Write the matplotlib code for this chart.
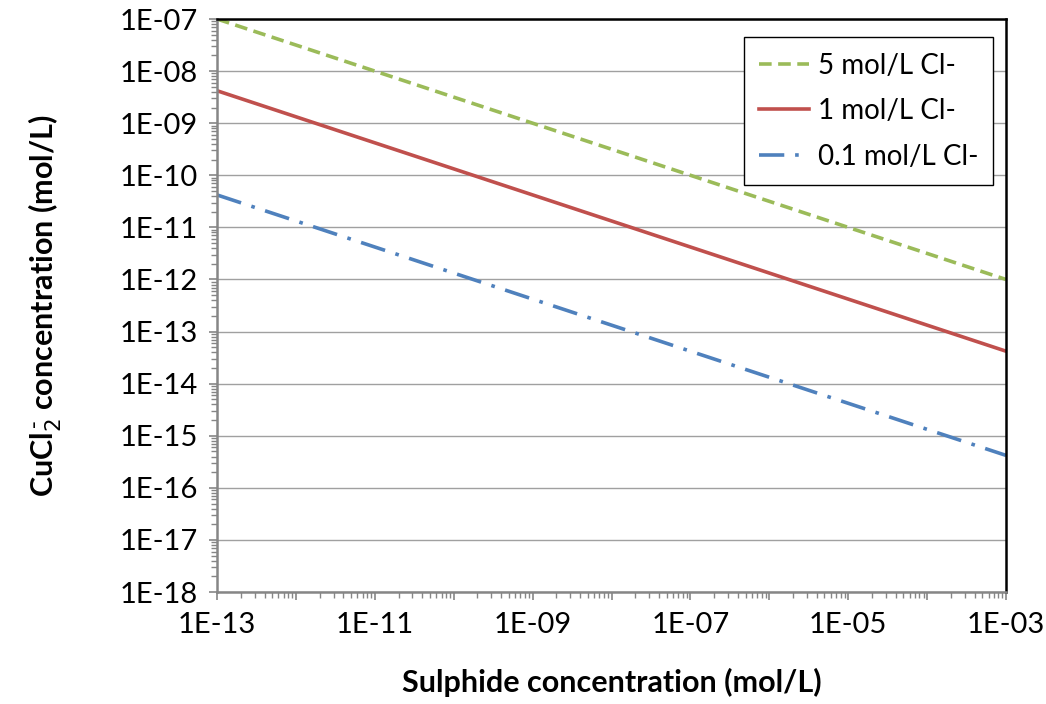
import matplotlib.pyplot as plt
import numpy as np
from matplotlib.ticker import LogLocator, FixedLocator, NullFormatter

# data
sulphide = [1e-13, 1e-3]
cucl2_5M = [1e-7, 1e-12]
cucl2_1M = [4.2e-9, 4.2e-14]
cucl2_01M = [4.2e-11, 4.2e-16]
labels = ["5 mol/L Cl-", "1 mol/L Cl-", "0.1 mol/L Cl-"]

plt.rcParams['font.family'] = ['Lato', 'DejaVu Sans']

fig = plt.figure(figsize=(10.46, 7.04), dpi=100)
ax = fig.add_axes([0.2075, 0.159, 0.7543, 0.814])

ax.plot(sulphide, cucl2_5M, color='#9BBB59', lw=2.6, dashes=(3.5, 1.8), label=labels[0])
ax.plot(sulphide, cucl2_1M, color='#C0504D', lw=2.6, label=labels[1])
ax.plot(sulphide, cucl2_01M, color='#4F81BD', lw=2.6, dashes=(7, 3, 1, 3), label=labels[2])

ax.set_xscale('log')
ax.set_yscale('log')
ax.set_xlim(1e-13, 1e-3)
ax.set_ylim(1e-18, 1e-7)

xt = [10.0**e for e in range(-13, -2)]
ax.xaxis.set_major_locator(FixedLocator(xt))
ax.set_xticklabels(["1E-%02d" % -e if e % 2 else "" for e in range(-13, -2)])
ax.xaxis.set_minor_locator(LogLocator(base=10, subs=np.arange(2, 10), numticks=50))
ax.xaxis.set_minor_formatter(NullFormatter())

yt = [10.0**e for e in range(-18, -6)]
ax.yaxis.set_major_locator(FixedLocator(yt))
ax.set_yticklabels(["1E-%02d" % -e for e in range(-18, -6)])
ax.yaxis.set_minor_locator(LogLocator(base=10, subs=np.arange(2, 10), numticks=50))
ax.yaxis.set_minor_formatter(NullFormatter())

ax.tick_params(which='major', direction='out', length=6, width=1.2, color='#868686',
               labelsize=21, pad=8)
ax.tick_params(which='minor', direction='out', length=4, width=1, color='#868686')

ax.grid(axis='y', which='major', color='#A0A0A0', lw=1)
ax.set_axisbelow(True)

for s in ['left', 'bottom']:
    ax.spines[s].set_color('#868686')
    ax.spines[s].set_linewidth(1.8)
for s in ['top', 'right']:
    ax.spines[s].set_color('black')
    ax.spines[s].set_linewidth(1.8)

ax.set_xlabel("Sulphide concentration (mol/L)", fontsize=22, fontweight='bold', labelpad=22)
ax.set_ylabel("CuCl$_2^{\\,\\text{-}}$ concentration (mol/L)", fontsize=22, fontweight='bold', labelpad=40)

leg = ax.legend(loc='upper right', bbox_to_anchor=(0.984, 0.968), borderaxespad=0,
                fontsize=20, frameon=True, fancybox=False, edgecolor='black', framealpha=1,
                handlelength=1.8, handletextpad=0.3, labelspacing=0.7, borderpad=0.55)
leg.get_frame().set_linewidth(1.0)

fig.savefig("out.png", dpi=100)
